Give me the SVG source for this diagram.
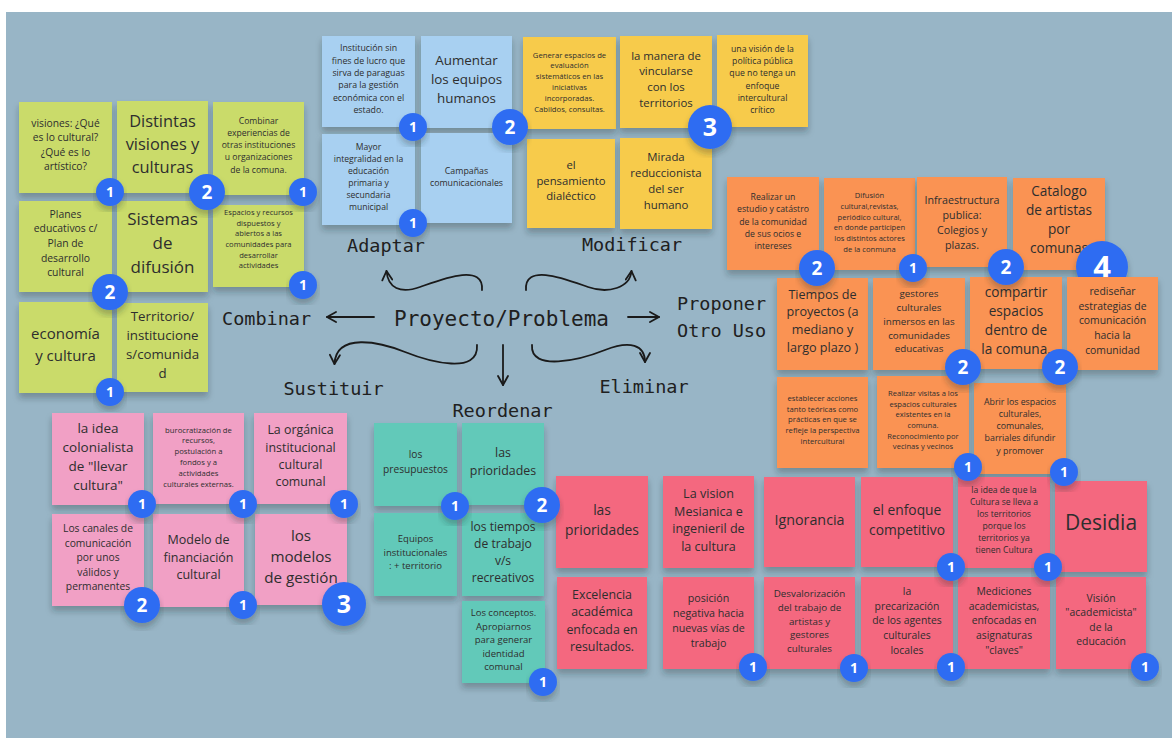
<svg xmlns="http://www.w3.org/2000/svg" width="1172" height="738" viewBox="0 0 1172 738">
<defs>
<filter id="sh" x="-10%" y="-10%" width="120%" height="130%">
<feDropShadow dx="0" dy="5" stdDeviation="3" flood-color="#1c2a33" flood-opacity="0.3"/>
</filter>
<marker id="ah" viewBox="0 0 12 12" refX="10.5" refY="6" markerWidth="12" markerHeight="12" markerUnits="userSpaceOnUse" orient="auto">
<path d="M1.5,1 L10.5,6 L1.5,11" fill="none" stroke="#1a1a1a" stroke-width="1.8" stroke-linecap="round" stroke-linejoin="round"/>
</marker>
<style>
rect.note{filter:url(#sh)}
.gr{fill:#cadb6a}.bl{fill:#a8d0f1}.ye{fill:#f7cb4c}.or{fill:#fa9352}.pk{fill:#f1a0c5}.te{fill:#62c9b9}.rd{fill:#f4677f}
.nt{font-family:"Open Sans","Liberation Sans",sans-serif;fill:#2e2e2e;text-anchor:middle}
.lbl{font-family:"DejaVu Sans Mono","Liberation Mono",monospace;font-size:18.5px;fill:#202020}
.bd circle{fill:#2f6cf2;filter:url(#sh)}
.bd text{font-family:"Open Sans","Liberation Sans",sans-serif;font-weight:700;fill:#ffffff;text-anchor:middle}
.cn path{fill:none;stroke:#1a1a1a;stroke-width:1.8;stroke-linecap:round;marker-end:url(#ah)}
</style>
</defs>
<rect x="0" y="0" width="1172" height="738" fill="#ffffff"/>
<rect x="6" y="12" width="1166" height="726" fill="#98b5c6"/>

<!-- green -->
<g id="g1"><rect class="note gr" x="19" y="102" width="93" height="91"/><text class="nt" font-size="10.3"><tspan x="65.5" y="126.7">visiones: ¿Qué</tspan><tspan x="65.5" y="141.1">es lo cultural?</tspan><tspan x="65.5" y="155.7">¿Qué es lo</tspan><tspan x="65.5" y="170.1">artístico?</tspan></text></g>
<g id="g2"><rect class="note gr" x="117" y="101" width="91" height="92"/><text class="nt" font-size="16.4"><tspan x="162.5" y="127.1">Distintas</tspan><tspan x="162.5" y="150.4">visiones y</tspan><tspan x="162.5" y="173.1">culturas</tspan></text></g>
<g id="g3"><rect class="note gr" x="213" y="102" width="91" height="93"/><text class="nt" font-size="8.6"><tspan x="258.5" y="123.5">Combinar</tspan><tspan x="258.5" y="135.7">experiencias de</tspan><tspan x="258.5" y="148">otras instituciones</tspan><tspan x="258.5" y="160.2">u organizaciones</tspan><tspan x="258.5" y="172.5">de la comuna.</tspan></text></g>
<g id="g4"><rect class="note gr" x="19" y="201" width="93" height="91"/><text class="nt" font-size="10.4"><tspan x="65.5" y="217.7">Planes</tspan><tspan x="65.5" y="232.3">educativos c/</tspan><tspan x="65.5" y="246.9">Plan de</tspan><tspan x="65.5" y="261.5">desarrollo</tspan><tspan x="65.5" y="276.1">cultural</tspan></text></g>
<g id="g5"><rect class="note gr" x="117" y="201" width="91" height="91"/><text class="nt" font-size="17"><tspan x="162.5" y="224.9">Sistemas</tspan><tspan x="162.5" y="248.9">de</tspan><tspan x="162.5" y="272.9">difusión</tspan></text></g>
<g id="g6"><rect class="note gr" x="213" y="205" width="91" height="82"/><text class="nt" font-size="7.6"><tspan x="258.5" y="214.8">Espacios y recursos</tspan><tspan x="258.5" y="225.5">dispuestos y</tspan><tspan x="258.5" y="236.2">abiertos a las</tspan><tspan x="258.5" y="246.9">comunidades para</tspan><tspan x="258.5" y="257.6">desarrollar</tspan><tspan x="258.5" y="268.3">actividades</tspan></text></g>
<g id="g7"><rect class="note gr" x="19" y="302" width="93" height="91"/><text class="nt" font-size="15"><tspan x="65.5" y="339.3">economía</tspan><tspan x="65.5" y="360.6">y cultura</tspan></text></g>
<g id="g8"><rect class="note gr" x="117" y="303" width="91" height="89"/><text class="nt" font-size="13.3"><tspan x="162.5" y="321.4">Territorio/</tspan><tspan x="162.5" y="340.2">institucione</tspan><tspan x="162.5" y="359">s/comunida</tspan><tspan x="162.5" y="377.8">d</tspan></text></g>

<!-- blue -->
<g id="b1"><rect class="note bl" x="322" y="36" width="93" height="91"/><text class="nt" font-size="8.8"><tspan x="368.5" y="51.2">Institución sin</tspan><tspan x="368.5" y="63.6">fines de lucro que</tspan><tspan x="368.5" y="75.9">sirva de paraguas</tspan><tspan x="368.5" y="88.3">para la gestión</tspan><tspan x="368.5" y="100.6">económica con el</tspan><tspan x="368.5" y="113">estado.</tspan></text></g>
<g id="b2"><rect class="note bl" x="421" y="36" width="91" height="92"/><text class="nt" font-size="13.4"><tspan x="466.5" y="65.4">Aumentar</tspan><tspan x="466.5" y="84.2">los equipos</tspan><tspan x="466.5" y="103">humanos</tspan></text></g>
<g id="b3"><rect class="note bl" x="322" y="134" width="93" height="91"/><text class="nt" font-size="8.6"><tspan x="368.5" y="150.1">Mayor</tspan><tspan x="368.5" y="162.1">integralidad en la</tspan><tspan x="368.5" y="174.1">educación</tspan><tspan x="368.5" y="186.1">primaria y</tspan><tspan x="368.5" y="198.1">secundaria</tspan><tspan x="368.5" y="210.1">municipal</tspan></text></g>
<g id="b4"><rect class="note bl" x="421" y="133" width="91" height="90"/><text class="nt" font-size="8.8"><tspan x="466.5" y="173.9">Campañas</tspan><tspan x="466.5" y="186.2">comunicacionales</tspan></text></g>

<!-- yellow -->
<g id="y1"><rect class="note ye" x="523" y="37" width="93" height="92"/><text class="nt" font-size="7.7"><tspan x="569.5" y="57.5">Generar espacios de</tspan><tspan x="569.5" y="68.3">evaluación</tspan><tspan x="569.5" y="79.1">sistemáticos en las</tspan><tspan x="569.5" y="89.9">iniciativas</tspan><tspan x="569.5" y="100.7">incorporadas.</tspan><tspan x="569.5" y="111.5">Cabildos, consultas.</tspan></text></g>
<g id="y2"><rect class="note ye" x="620" y="36" width="92" height="92"/><text class="nt" font-size="11.4"><tspan x="666" y="59.5">la manera de</tspan><tspan x="666" y="75.4">vincularse</tspan><tspan x="666" y="91.3">con los</tspan><tspan x="666" y="107.2">territorios</tspan></text></g>
<g id="y3"><rect class="note ye" x="717" y="35" width="91" height="92"/><text class="nt" font-size="8.7"><tspan x="762.5" y="51.9">una visión de la</tspan><tspan x="762.5" y="64.1">política pública</tspan><tspan x="762.5" y="76.3">que no tenga un</tspan><tspan x="762.5" y="88.5">enfoque</tspan><tspan x="762.5" y="100.7">intercultural</tspan><tspan x="762.5" y="112.9">crítico</tspan></text></g>
<g id="y4"><rect class="note ye" x="527" y="139" width="88" height="89"/><text class="nt" font-size="11.3"><tspan x="571" y="168.7">el</tspan><tspan x="571" y="184.5">pensamiento</tspan><tspan x="571" y="200.3">dialéctico</tspan></text></g>
<g id="y5"><rect class="note ye" x="620" y="138" width="92" height="91"/><text class="nt" font-size="11.4"><tspan x="666" y="160.5">Mirada</tspan><tspan x="666" y="176.6">reduccionista</tspan><tspan x="666" y="192.7">del ser</tspan><tspan x="666" y="208.8">humano</tspan></text></g>

<!-- orange -->
<g id="o1"><rect class="note or" x="727" y="177" width="92" height="93"/><text class="nt" font-size="8.7"><tspan x="773" y="200.2">Realizar un</tspan><tspan x="773" y="212.4">estudio y catástro</tspan><tspan x="773" y="224.6">de la comunidad</tspan><tspan x="773" y="236.8">de sus ocios e</tspan><tspan x="773" y="249">intereses</tspan></text></g>
<g id="o2"><rect class="note or" x="824" y="178" width="91" height="92"/><text class="nt" font-size="7.6"><tspan x="869.5" y="198.2">Difusión</tspan><tspan x="869.5" y="208.9">cultural,revistas,</tspan><tspan x="869.5" y="219.6">periódico cultural,</tspan><tspan x="869.5" y="230.3">en donde participen</tspan><tspan x="869.5" y="241">los distintos actores</tspan><tspan x="869.5" y="251.7">de la conmuna</tspan></text></g>
<g id="o3"><rect class="note or" x="917" y="177" width="90" height="90"/><text class="nt" font-size="10.7"><tspan x="962" y="203.5">Infraestructura</tspan><tspan x="962" y="218.5">publica:</tspan><tspan x="962" y="233.5">Colegios y</tspan><tspan x="962" y="248.5">plazas.</tspan></text></g>
<g id="o4"><rect class="note or" x="1013" y="178" width="92" height="92"/><text class="nt" font-size="13.6"><tspan x="1059" y="196.2">Catalogo</tspan><tspan x="1059" y="215.2">de artistas</tspan><tspan x="1059" y="234.2">por</tspan><tspan x="1059" y="253.2">comunas</tspan></text>
<g class="bd"><circle cx="1102" cy="267" r="26"/><text x="1102" y="278" font-size="31">4</text></g></g>
<g id="o5"><rect class="note or" x="777" y="278" width="91" height="92"/><text class="nt" font-size="12.6"><tspan x="822.5" y="298.5">Tiempos de</tspan><tspan x="822.5" y="316.3">proyectos (a</tspan><tspan x="822.5" y="334.1">mediano y</tspan><tspan x="822.5" y="351.9">largo plazo )</tspan></text></g>
<g id="o6"><rect class="note or" x="873" y="278" width="92" height="92"/><text class="nt" font-size="9.8"><tspan x="919" y="297.2">gestores</tspan><tspan x="919" y="311">culturales</tspan><tspan x="919" y="324.7">inmersos en las</tspan><tspan x="919" y="338.5">comunidades</tspan><tspan x="919" y="352.2">educativas</tspan></text></g>
<g id="o7"><rect class="note or" x="970" y="277" width="92" height="92"/><text class="nt" font-size="13.6"><tspan x="1016" y="297.2">compartir</tspan><tspan x="1016" y="316.2">espacios</tspan><tspan x="1016" y="335.2">dentro de</tspan><tspan x="1016" y="354.2">la comuna.</tspan></text></g>
<g id="o8"><rect class="note or" x="1067" y="277" width="91" height="93"/><text class="nt" font-size="10.4"><tspan x="1112.5" y="295.1">rediseñar</tspan><tspan x="1112.5" y="309.7">estrategias de</tspan><tspan x="1112.5" y="324.3">comunicación</tspan><tspan x="1112.5" y="338.9">hacia la</tspan><tspan x="1112.5" y="353.5">comunidad</tspan></text></g>
<g id="o9"><rect class="note or" x="777" y="377" width="91" height="91"/><text class="nt" font-size="7.7"><tspan x="822.5" y="400.8">establecer acciones</tspan><tspan x="822.5" y="411.6">tanto teóricas como</tspan><tspan x="822.5" y="422.4">prácticas en que se</tspan><tspan x="822.5" y="433.2">refleje la perspectiva</tspan><tspan x="822.5" y="444">intercultural</tspan></text></g>
<g id="o10"><rect class="note or" x="877" y="376" width="92" height="92"/><text class="nt" font-size="7.6"><tspan x="923" y="395.8">Realizar visitas a los</tspan><tspan x="923" y="406.5">espacios culturales</tspan><tspan x="923" y="417.2">existentes en la</tspan><tspan x="923" y="427.9">comuna.</tspan><tspan x="923" y="438.6">Reconocimiento por</tspan><tspan x="923" y="449.3">vecinas y vecinos</tspan></text></g>
<g id="o11"><rect class="note or" x="974" y="383" width="92" height="91"/><text class="nt" font-size="8.8"><tspan x="1020" y="404.6">Abrir los espacios</tspan><tspan x="1020" y="416.9">culturales,</tspan><tspan x="1020" y="429.1">comunales,</tspan><tspan x="1020" y="441.4">barriales difundir</tspan><tspan x="1020" y="453.6">y promover</tspan></text></g>

<!-- pink -->
<g id="p1"><rect class="note pk" x="52" y="413" width="92" height="92"/><text class="nt" font-size="13.5"><tspan x="98" y="432.8">la idea</tspan><tspan x="98" y="451.7">colonialista</tspan><tspan x="98" y="470.6">de "llevar</tspan><tspan x="98" y="489.5">cultura"</tspan></text></g>
<g id="p2"><rect class="note pk" x="153" y="413" width="91" height="91"/><text class="nt" font-size="7.7"><tspan x="198.5" y="432.5">burocratización de</tspan><tspan x="198.5" y="443.3">recursos,</tspan><tspan x="198.5" y="454.1">postulación a</tspan><tspan x="198.5" y="464.9">fondos y a</tspan><tspan x="198.5" y="475.7">actividades</tspan><tspan x="198.5" y="486.5">culturales externas.</tspan></text></g>
<g id="p3"><rect class="note pk" x="254" y="413" width="93" height="91"/><text class="nt" font-size="12.4"><tspan x="300.5" y="434.1">La orgánica</tspan><tspan x="300.5" y="451.5">institucional</tspan><tspan x="300.5" y="468.9">cultural</tspan><tspan x="300.5" y="486.3">comunal</tspan></text></g>
<g id="p4"><rect class="note pk" x="52" y="514" width="92" height="92"/><text class="nt" font-size="10.3"><tspan x="98" y="532.4">Los canales de</tspan><tspan x="98" y="546.8">comunicación</tspan><tspan x="98" y="561.2">por unos</tspan><tspan x="98" y="575.6">válidos y</tspan><tspan x="98" y="590">permanentes</tspan></text></g>
<g id="p5"><rect class="note pk" x="153" y="514" width="91" height="93"/><text class="nt" font-size="12.5"><tspan x="198.5" y="544.1">Modelo de</tspan><tspan x="198.5" y="561.6">financiación</tspan><tspan x="198.5" y="579.1">cultural</tspan></text></g>
<g id="p6"><rect class="note pk" x="255" y="514" width="92" height="91"/><text class="nt" font-size="15.2"><tspan x="301" y="540.7">los</tspan><tspan x="301" y="562">modelos</tspan><tspan x="301" y="583.3">de gestión</tspan></text></g>

<!-- teal -->
<g id="t1"><rect class="note te" x="374" y="423" width="83" height="83"/><text class="nt" font-size="10.2"><tspan x="415.5" y="458.4">los</tspan><tspan x="415.5" y="472.7">presupuestos</tspan></text></g>
<g id="t2"><rect class="note te" x="462" y="423" width="82" height="82"/><text class="nt" font-size="12.4"><tspan x="503" y="457.4">las</tspan><tspan x="503" y="474.7">prioridades</tspan></text></g>
<g id="t3"><rect class="note te" x="374" y="513" width="83" height="83"/><text class="nt" font-size="9.5"><tspan x="415.5" y="542.4">Equipos</tspan><tspan x="415.5" y="555.7">institucionales</tspan><tspan x="415.5" y="569">: + territorio</tspan></text></g>
<g id="t4"><rect class="note te" x="462" y="513" width="82" height="83"/><text class="nt" font-size="12.1"><tspan x="503" y="530.7">los tiempos</tspan><tspan x="503" y="547.7">de trabajo</tspan><tspan x="503" y="564.7">v/s</tspan><tspan x="503" y="581.7">recreativos</tspan></text></g>
<g id="t5"><rect class="note te" x="462" y="601" width="83" height="82"/><text class="nt" font-size="9.5"><tspan x="503.5" y="616.4">Los conceptos.</tspan><tspan x="503.5" y="629.8">Apropiarnos</tspan><tspan x="503.5" y="643.1">para generar</tspan><tspan x="503.5" y="656.5">identidad</tspan><tspan x="503.5" y="669.8">comunal</tspan></text></g>

<!-- red -->
<g id="r1"><rect class="note rd" x="556" y="476" width="92" height="92"/><text class="nt" font-size="13.8"><tspan x="602" y="515.3">las</tspan><tspan x="602" y="534.6">prioridades</tspan></text></g>
<g id="r2"><rect class="note rd" x="663" y="476" width="91" height="92"/><text class="nt" font-size="12.6"><tspan x="708.5" y="498.2">La vision</tspan><tspan x="708.5" y="515.8">Mesianica e</tspan><tspan x="708.5" y="533.4">ingenieril de</tspan><tspan x="708.5" y="551">la cultura</tspan></text></g>
<g id="r3"><rect class="note rd" x="764" y="477" width="91" height="90"/><text class="nt" font-size="14.3"><tspan x="809.5" y="524.7">Ignorancia</tspan></text></g>
<g id="r4"><rect class="note rd" x="861" y="477" width="92" height="90"/><text class="nt" font-size="13.8"><tspan x="907" y="515.3">el enfoque</tspan><tspan x="907" y="534.6">competitivo</tspan></text></g>
<g id="r5"><rect class="note rd" x="958" y="477" width="92" height="91"/><text class="nt" font-size="8.6"><tspan x="1004" y="492.8">la idea de que la</tspan><tspan x="1004" y="504.9">Cultura se lleva a</tspan><tspan x="1004" y="517">los territorios</tspan><tspan x="1004" y="529.1">porque los</tspan><tspan x="1004" y="541.2">territorios ya</tspan><tspan x="1004" y="553.3">tienen Cultura</tspan></text></g>
<g id="r6"><rect class="note rd" x="1055" y="481" width="92" height="91"/><text class="nt" font-size="21"><tspan x="1101" y="530.3">Desidia</tspan></text></g>
<g id="r7"><rect class="note rd" x="557" y="577" width="90" height="92"/><text class="nt" font-size="12.4"><tspan x="602" y="599.1">Excelencia</tspan><tspan x="602" y="616.3">académica</tspan><tspan x="602" y="633.5">enfocada en</tspan><tspan x="602" y="650.7">resultados.</tspan></text></g>
<g id="r8"><rect class="note rd" x="663" y="577" width="91" height="92"/><text class="nt" font-size="10.7"><tspan x="708.5" y="601.8">posición</tspan><tspan x="708.5" y="616.8">negativa hacia</tspan><tspan x="708.5" y="631.8">nuevas vías de</tspan><tspan x="708.5" y="646.8">trabajo</tspan></text></g>
<g id="r9"><rect class="note rd" x="764" y="577" width="91" height="92"/><text class="nt" font-size="9.8"><tspan x="809.5" y="597.2">Desvalorización</tspan><tspan x="809.5" y="610.9">del trabajo de</tspan><tspan x="809.5" y="624.7">artistas y</tspan><tspan x="809.5" y="638.4">gestores</tspan><tspan x="809.5" y="652.2">culturales</tspan></text></g>
<g id="r10"><rect class="note rd" x="861" y="577" width="92" height="92"/><text class="nt" font-size="10.4"><tspan x="907" y="595.1">la</tspan><tspan x="907" y="609.7">precarización</tspan><tspan x="907" y="624.3">de los agentes</tspan><tspan x="907" y="638.9">culturales</tspan><tspan x="907" y="653.5">locales</tspan></text></g>
<g id="r11"><rect class="note rd" x="958" y="577" width="92" height="92"/><text class="nt" font-size="10.4"><tspan x="1004" y="595.1">Mediciones</tspan><tspan x="1004" y="609.7">academicistas,</tspan><tspan x="1004" y="624.3">enfocadas en</tspan><tspan x="1004" y="638.9">asignaturas</tspan><tspan x="1004" y="653.5">"claves"</tspan></text></g>
<g id="r12"><rect class="note rd" x="1056" y="577" width="90" height="92"/><text class="nt" font-size="10.4"><tspan x="1101" y="601.7">Visión</tspan><tspan x="1101" y="616.2">"academicista"</tspan><tspan x="1101" y="630.7">de la</tspan><tspan x="1101" y="645.2">educación</tspan></text></g>

<!-- vote badges -->
<g id="badges" class="bd">
<circle cx="110" cy="192" r="14"/><text x="110" y="197" font-size="14">1</text>
<circle cx="207" cy="192" r="18"/><text x="207" y="199" font-size="19">2</text>
<circle cx="303" cy="192" r="14"/><text x="303" y="197" font-size="14">1</text>
<circle cx="110" cy="292" r="18"/><text x="110" y="299" font-size="19">2</text>
<circle cx="303" cy="285" r="14"/><text x="303" y="290" font-size="14">1</text>
<circle cx="110" cy="392" r="14"/><text x="110" y="397" font-size="14">1</text>
<circle cx="413" cy="127" r="14"/><text x="413" y="132" font-size="14">1</text>
<circle cx="510" cy="127" r="18"/><text x="510" y="134" font-size="19">2</text>
<circle cx="413" cy="223" r="14"/><text x="413" y="228" font-size="14">1</text>
<circle cx="710" cy="127" r="22"/><text x="710" y="136" font-size="25">3</text>
<circle cx="817" cy="268" r="18"/><text x="817" y="275" font-size="19">2</text>
<circle cx="913" cy="268" r="14"/><text x="913" y="273" font-size="14">1</text>
<circle cx="1006" cy="267" r="18"/><text x="1006" y="274" font-size="19">2</text>
<circle cx="963" cy="367" r="18"/><text x="963" y="374" font-size="19">2</text>
<circle cx="1060" cy="367" r="18"/><text x="1060" y="374" font-size="19">2</text>
<circle cx="968" cy="467" r="14"/><text x="968" y="472" font-size="14">1</text>
<circle cx="1064" cy="472" r="14"/><text x="1064" y="477" font-size="14">1</text>
<circle cx="142" cy="504" r="14"/><text x="142" y="509" font-size="14">1</text>
<circle cx="243" cy="504" r="14"/><text x="243" y="509" font-size="14">1</text>
<circle cx="344" cy="504" r="14"/><text x="344" y="509" font-size="14">1</text>
<circle cx="142" cy="605" r="18"/><text x="142" y="612" font-size="19">2</text>
<circle cx="243" cy="605" r="14"/><text x="243" y="610" font-size="14">1</text>
<circle cx="344" cy="604" r="22"/><text x="344" y="613" font-size="25">3</text>
<circle cx="455" cy="506" r="14"/><text x="455" y="511" font-size="14">1</text>
<circle cx="542" cy="505" r="18"/><text x="542" y="512" font-size="19">2</text>
<circle cx="543" cy="682" r="14"/><text x="543" y="687" font-size="14">1</text>
<circle cx="951" cy="567" r="14"/><text x="951" y="572" font-size="14">1</text>
<circle cx="1048" cy="567" r="14"/><text x="1048" y="572" font-size="14">1</text>
<circle cx="753" cy="667" r="14"/><text x="753" y="672" font-size="14">1</text>
<circle cx="854" cy="668" r="14"/><text x="854" y="673" font-size="14">1</text>
<circle cx="951" cy="667" r="14"/><text x="951" y="672" font-size="14">1</text>
<circle cx="1145" cy="667" r="14"/><text x="1145" y="672" font-size="14">1</text>
</g>

<!-- center -->
<g id="center"><text class="lbl" x="501.5" y="325.5" text-anchor="middle" style="font-size:21px">Proyecto/Problema</text></g>
<g id="labels">
<text class="lbl" x="222" y="324.5">Combinar</text>
<text class="lbl" x="386" y="251.5" text-anchor="middle">Adaptar</text>
<text class="lbl" x="632" y="250.5" text-anchor="middle">Modificar</text>
<text class="lbl" x="677" y="309.5">Proponer</text>
<text class="lbl" x="677" y="336.5">Otro Uso</text>
<text class="lbl" x="333.5" y="394.5" text-anchor="middle">Sustituir</text>
<text class="lbl" x="502.5" y="416.5" text-anchor="middle">Reordenar</text>
<text class="lbl" x="644" y="392.5" text-anchor="middle">Eliminar</text>
</g>

<g id="connectors" class="cn">
<path d="M374 317 L327 317"/>
<path d="M628 317 L659 317"/>
<path d="M482 290 C484 262 440 280 420 287 C400 294 388 288 386.5 271"/>
<path d="M526 290 C524 262 568 280 588 287 C608 294 630 288 631.5 271"/>
<path d="M477 345 C479 375 430 362 405 352 C380 342 336 332 334.5 364"/>
<path d="M503 345 L503 385"/>
<path d="M532 345 C530 372 580 360 605 350 C630 340 645 345 645 362"/>
</g>
</svg>
